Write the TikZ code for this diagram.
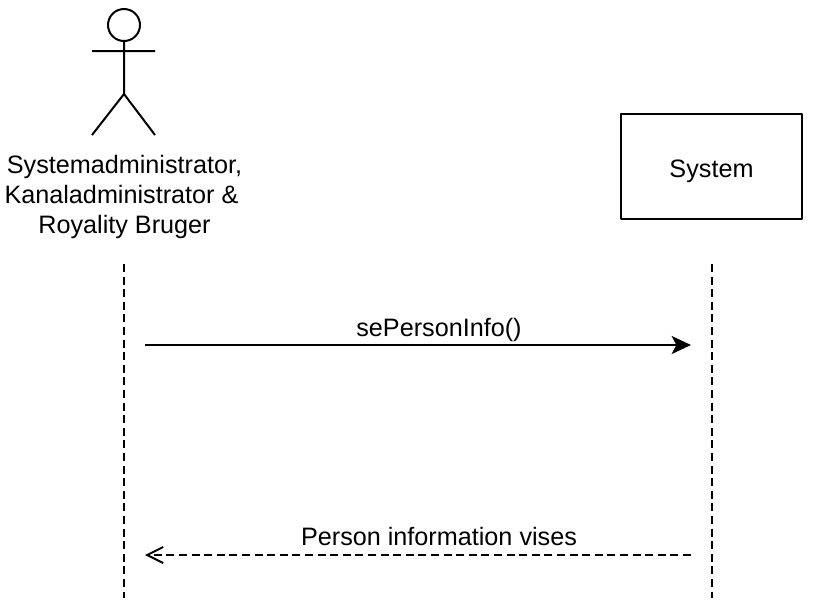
\documentclass[tikz,border=0pt]{standalone}
\usepackage{fontspec}
\setmainfont{Liberation Sans}
\usetikzlibrary{arrows.meta}
\usetikzlibrary{positioning}
\tikzstyle{every node}=[font=\fontsize{18.9pt}{22.5pt}\selectfont]
\tikzstyle{every path}=[line width=1.5pt,line join=round]
\tikzstyle{lifeline}=[dash pattern=on 6pt off 3.45pt]
\tikzstyle{msgcall}=[-{Stealth[length=14.5pt,width=13.5pt,inset=3.5pt]}]
\tikzstyle{msgreturn}=[dash pattern=on 6pt off 3.45pt,-{Straight Barb[length=12pt,width=12pt]}]
\tikzstyle{label}=[inner sep=0pt,text height=14pt,text depth=4pt]

\begin{document}
\begin{tikzpicture}[x=0.75pt,y=-0.75pt]
  \useasboundingbox (0,0) rectangle (821,615);
  % actor
  \node[draw,circle,inner sep=0pt,minimum size=24pt] (head) at (124,25) {};
  \coordinate (neck) at (124,51);
  \coordinate (hip) at (124,94);
  \coordinate (armL) at (92,51);
  \coordinate (armR) at (155,51);
  \coordinate (legL) at (92,135);
  \coordinate (legR) at (155,135);
  \draw (head.south)--(hip)
    (armL)--(armR)
    (legL)--(hip)--(legR);
  \node[label] (actorA) at (124.5,167) {Systemadministrator,};
  \node[label] (actorB) at (121.5,197) {Kanaladministrator \&};
  \node[label] (actorC) at (124.5,227) {Royality Bruger};
  % system
  \node[draw,minimum width=136pt,minimum height=79pt,inner sep=0pt,text height=17pt,text depth=0pt] (system) at (711.5,166.5) {System};
  % lifelines
  \coordinate (actorTop) at (124,264);
  \coordinate (actorEnd) at (124,598);
  \coordinate (systemTop) at (711.5,264);
  \coordinate (systemEnd) at (711.5,598);
  \draw[lifeline] (actorTop)--(actorEnd);
  \draw[lifeline] (systemTop)--(systemEnd);
  % messages
  \coordinate (callA) at (145,345);
  \coordinate (callB) at (691,345);
  \coordinate (retA) at (691,555);
  \coordinate (retB) at (145,555);
  \draw[msgcall] (callA)--(callB);
  \draw[msgreturn] (retA)--(retB);
  \node[label] (callText) at (439,330) {sePersonInfo()};
  \node[label] (retText) at (439,539) {Person information vises};
\end{tikzpicture}
\end{document}
